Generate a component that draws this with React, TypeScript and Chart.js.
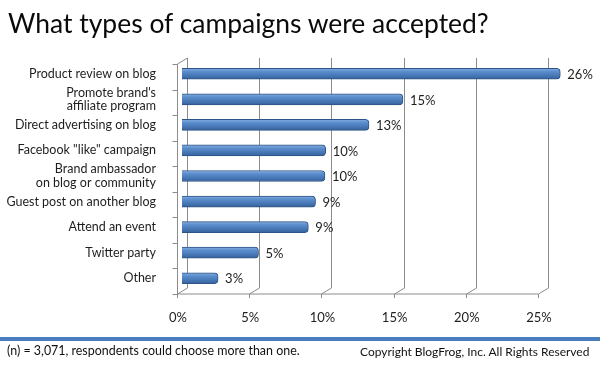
import React, { useEffect, useRef } from "react";
import { Chart, registerables } from "chart.js";

Chart.register(...registerables);

// ---- data ----
const categories: (string | string[])[] = [
  "Product review on blog",
  ["Promote brand's", "affiliate program"],
  "Direct advertising on blog",
  'Facebook "like" campaign',
  ["Brand ambassador", "on blog or community"],
  "Guest post on another blog",
  "Attend an event",
  "Twitter party",
  "Other",
];
const values = [26.2, 15.3, 12.95, 9.95, 9.9, 9.25, 8.75, 5.3, 2.5];
const valueLabels = ["26%", "15%", "13%", "10%", "10%", "9%", "9%", "5%", "3%"];
const xTicks = [0, 5, 10, 15, 20, 25];
const titleText = "What types of campaigns were accepted?";
const noteText = "(n) = 3,071, respondents could choose more than one.";
const copyrightText = "Copyright BlogFrog, Inc. All Rights Reserved";

const FONT = "Lato";
const DX = 5;
const DY = 3;

const wallPlugin = {
  id: "wall3d",
  beforeDatasetsDraw(chart: any) {
    const { ctx, chartArea: a, scales } = chart;
    const x = scales.x;
    const px = (v: number) => Math.round(x.getPixelForValue(v)) + 0.5;
    const top = a.top;
    const bot = a.bottom;
    ctx.save();
    ctx.strokeStyle = "#8c8c8c";
    ctx.lineWidth = 1;
    ctx.beginPath();
    xTicks.forEach((v) => {
      const xb = px(v) + DX;
      const xf = px(v) - DX;
      ctx.moveTo(xb, top - DY);
      ctx.lineTo(xb, bot - DY);
      ctx.lineTo(xf, bot + DY);
      ctx.moveTo(xf, bot + DY);
      ctx.lineTo(xf, bot + DY + 4);
    });
    const lf = px(0) - DX;
    const lb = px(0) + DX;
    ctx.moveTo(lb, top - DY);
    ctx.lineTo(lf, top + DY);
    ctx.lineTo(lf, bot + DY);
    ctx.lineTo(px(xTicks[xTicks.length - 1]) - DX, bot + DY);
    const n = categories.length;
    for (let i = 0; i <= n; i++) {
      const yy = Math.round(top + DY + ((bot - top) * i) / n) + 0.5;
      ctx.moveTo(lf - 5, yy);
      ctx.lineTo(lf, yy);
    }
    ctx.stroke();
    ctx.restore();
  },
  afterDatasetsDraw(chart: any) {
    const { ctx } = chart;
    const meta = chart.getDatasetMeta(0);
    ctx.save();
    ctx.font = `13px ${FONT}`;
    ctx.fillStyle = "#1e1e1e";
    ctx.textBaseline = "middle";
    ctx.textAlign = "left";
    meta.data.forEach((bar: any, i: number) => {
      ctx.fillText(valueLabels[i], bar.x + 7, bar.y + 1);
    });
    ctx.restore();
  },
};

function measure(text: string, size: number) {
  const c = document.createElement("canvas").getContext("2d")!;
  c.font = `${size}px ${FONT}`;
  return c.measureText(text).width;
}

function FitText(props: { text: string; left?: number; right?: number; width: number; baseline: number; color?: string }) {
  const w100 = measure(props.text, 100);
  const F = (100 * props.width) / w100;
  const top = props.baseline - 0.887 * F;
  const left = props.left !== undefined ? props.left : (props.right as number) - props.width;
  return (
    <div
      style={{
        position: "absolute",
        left,
        top,
        fontFamily: FONT,
        fontSize: F,
        lineHeight: 1,
        whiteSpace: "nowrap",
        color: props.color || "#111",
      }}
    >
      {props.text}
    </div>
  );
}

export default function App() {
  const ref = useRef<HTMLCanvasElement>(null);

  useEffect(() => {
    const canvas = ref.current!;
    const chart = new Chart(canvas, {
      type: "bar",
      data: {
        labels: categories as any,
        datasets: [
          {
            data: values,
            clip: false as any,
            barThickness: 11,
            borderWidth: 1,
            borderColor: "#2d5486",
            borderRadius: 4,
            backgroundColor: (c: any) => {
              const ch = c.chart;
              const ys = ch.scales && ch.scales.y;
              if (!ys || c.dataIndex == null) return "#4f81bd";
              const yc = ys.getPixelForValue(c.dataIndex);
              if (!isFinite(yc)) return "#4f81bd";
              const g = ch.ctx.createLinearGradient(0, yc - 5.5, 0, yc + 5.5);
              g.addColorStop(0, "#86aee0");
              g.addColorStop(0.3, "#5b8dcd");
              g.addColorStop(0.7, "#4675b3");
              g.addColorStop(1, "#36619a");
              return g;
            },
          },
        ],
      },
      options: {
        indexAxis: "y",
        animation: false,
        responsive: false,
        maintainAspectRatio: false,
        layout: { padding: { top: 61, right: 57, left: 0, bottom: 0 } },
        plugins: { legend: { display: false }, tooltip: { enabled: false }, title: { display: false } },
        scales: {
          x: {
            min: 0,
            max: 25,
            grid: { display: false },
            border: { display: false },
            ticks: {
              stepSize: 5,
              padding: 11,
              labelOffset: -4,
              color: "#222",
              font: { family: FONT, size: 13 },
              callback: (v: any) => `${v}%`,
            },
            afterFit: (s: any) => {
              s.height = 75;
            },
          },
          y: {
            grid: { display: false },
            border: { display: false },
            ticks: {
              autoSkip: false,
              padding: 18,
              color: "#1e1e1e",
              font: { family: FONT, size: 12.5, lineHeight: 1.05 },
            },
            afterFit: (s: any) => {
              s.width = 182;
            },
          },
        },
      },
      plugins: [wallPlugin],
    });
    return () => chart.destroy();
  }, []);

  return (
    <div style={{ position: "fixed", left: 0, top: 0, width: 600, height: 366, background: "#fff", overflow: "hidden" }}>
      <canvas ref={ref} width={600} height={366} style={{ position: "absolute", left: 0, top: 0, display: "block" }} />
      <FitText text={titleText} left={8} width={482} baseline={33} color="#0a0a0a" />
      <div style={{ position: "absolute", left: 0, top: 337, width: 600, height: 4, background: "#4a7dbd" }} />
      <FitText text={noteText} left={7} width={293} baseline={356.5} />
      <FitText text={copyrightText} right={590} width={230} baseline={356.5} />
    </div>
  );
}
